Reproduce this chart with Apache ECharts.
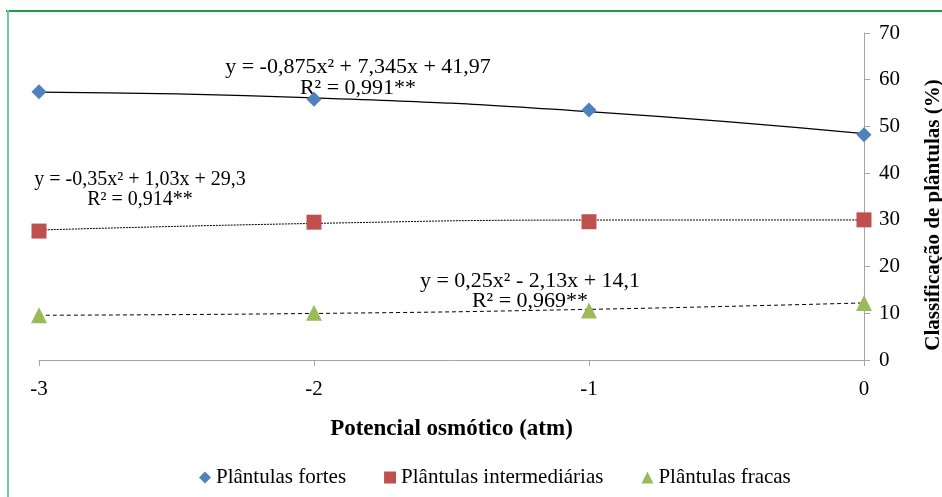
<!DOCTYPE html>
<html>
<head>
<meta charset="utf-8">
<script src="https://cdn.jsdelivr.net/npm/echarts@6/dist/echarts.min.js"></script>
<style>
html,body{margin:0;padding:0;background:#fff;}
#chart{width:942px;height:497px;}
</style>
</head>
<body>
<div id="chart"></div>
<script>
const xValues = [-3, -2, -1, 0];
const fortes = [57.4, 55.8, 53.5, 48.2];
const intermediarias = [27.6, 29.5, 29.6, 30.0];
const fracas = [9.6, 10.1, 10.6, 12.2];
const trendFortes = [57.35, 56.13, 53.16, 48.44];
const trendInter = [27.82, 29.24, 29.96, 29.98];
const trendFracas = [9.58, 9.96, 10.84, 12.22];
const yTicks = [0, 10, 20, 30, 40, 50, 60, 70];
const seriesNames = ['Plântulas fortes', 'Plântulas intermediárias', 'Plântulas fracas'];
const eq1 = ['y = -0,875x² + 7,345x + 41,97', 'R² = 0,991**'];
const eq2 = ['y = -0,35x² + 1,03x + 29,3', 'R² = 0,914**'];
const eq3 = ['y = 0,25x² - 2,13x + 14,1', 'R² = 0,969**'];

const pair = arr => xValues.map((x, i) => [x, arr[i]]);
const serif = 'Liberation Serif';
const colors = ['#4f81bd', '#c0504d', '#9bbb59'];
const icons = ['diamond', 'rect', 'triangle'];

const chart = echarts.init(document.getElementById('chart'));
function eqText(lines, cx, y1, y2, size) {
  return [
    {type: 'text', x: cx, y: y1, style: {text: lines[0], font: size + 'px "Liberation Serif"', fill: '#000', align: 'center', verticalAlign: 'middle'}},
    {type: 'text', x: cx, y: y2, style: {text: lines[1], font: size + 'px "Liberation Serif"', fill: '#000', align: 'center', verticalAlign: 'middle'}}
  ];
}
chart.setOption({
  animation: false,
  backgroundColor: '#fff',
  textStyle: {fontFamily: serif},
  grid: {left: 39, right: 78, top: 33, bottom: 137, containLabel: false},
  xAxis: {
    type: 'value', min: -3, max: 0, interval: 1,
    axisLine: {lineStyle: {color: '#a6a6a6', width: 1}},
    axisTick: {show: true, length: 6, lineStyle: {color: '#a6a6a6'}},
    splitLine: {show: false},
    axisLabel: {color: '#000', fontFamily: serif, fontSize: 21, margin: 19},
    name: 'Potencial osmótico (atm)', nameLocation: 'middle', nameGap: 58,
    nameTextStyle: {color: '#000', fontFamily: serif, fontSize: 23, fontWeight: 'bold'}
  },
  yAxis: {
    type: 'value', position: 'right', min: 0, max: 70, interval: 10,
    axisLine: {show: true, onZero: false, lineStyle: {color: '#a6a6a6', width: 1}},
    axisTick: {show: true, length: 6, lineStyle: {color: '#a6a6a6'}},
    splitLine: {show: false},
    axisLabel: {color: '#000', fontFamily: serif, fontSize: 21, margin: 15,
      formatter: v => yTicks.includes(v) ? String(v) : ''}
  },
  legend: {
    data: seriesNames.map((n, i) => ({name: n, icon: icons[i],
      itemStyle: {color: colors[i], opacity: 1}})),
    bottom: 4, left: 194, itemGap: 38, itemWidth: 12, itemHeight: 12,
    formatter: n => '{t|' + n + '}',
    textStyle: {color: '#000', fontFamily: 'serif', fontSize: 21,
      rich: {t: {fontFamily: 'Liberation Serif', fontSize: 21, color: '#000'}}}
  },
  series: [
    {name: 'trend1', type: 'line', data: pair(trendFortes), smooth: 0.5, symbol: 'none',
      lineStyle: {color: '#000', width: 1.2, type: 'solid'}, z: 1, silent: true},
    {name: 'trend2', type: 'line', data: pair(trendInter), smooth: 0.5, symbol: 'none',
      lineStyle: {color: '#000', width: 1, type: [2, 1]}, z: 1, silent: true},
    {name: 'trend3', type: 'line', data: pair(trendFracas), smooth: 0.5, symbol: 'none',
      lineStyle: {color: '#000', width: 1, type: [4, 3]}, z: 1, silent: true},
    {name: seriesNames[0], type: 'scatter', data: pair(fortes), symbol: icons[0], symbolSize: 15,
      itemStyle: {color: colors[0], opacity: 1}, z: 3},
    {name: seriesNames[1], type: 'scatter', data: pair(intermediarias), symbol: icons[1], symbolSize: 15,
      itemStyle: {color: colors[1], opacity: 1}, z: 3},
    {name: seriesNames[2], type: 'scatter', data: pair(fracas), symbol: icons[2], symbolSize: 16,
      itemStyle: {color: colors[2], opacity: 1}, z: 3}
  ],
  graphic: [
    {type: 'line', shape: {x1: 6, y1: 11, x2: 942, y2: 11}, style: {stroke: '#1f9a50', lineWidth: 2}},
    {type: 'line', shape: {x1: 8, y1: 10, x2: 8, y2: 497}, style: {stroke: '#6fcf97', lineWidth: 2}},
    ...eqText(eq1, 358, 67, 88, 22),
    ...eqText(eq2, 140, 180, 200, 20),
    ...eqText(eq3, 530, 281, 301, 22),
    {type: 'text', x: 934, y: 215, rotation: Math.PI / 2,
      style: {text: 'Classificação de plântulas (%)', font: 'bold 21px "Liberation Serif"', fill: '#000', align: 'center', verticalAlign: 'middle'}}
  ]
});
</script>
</body>
</html>
